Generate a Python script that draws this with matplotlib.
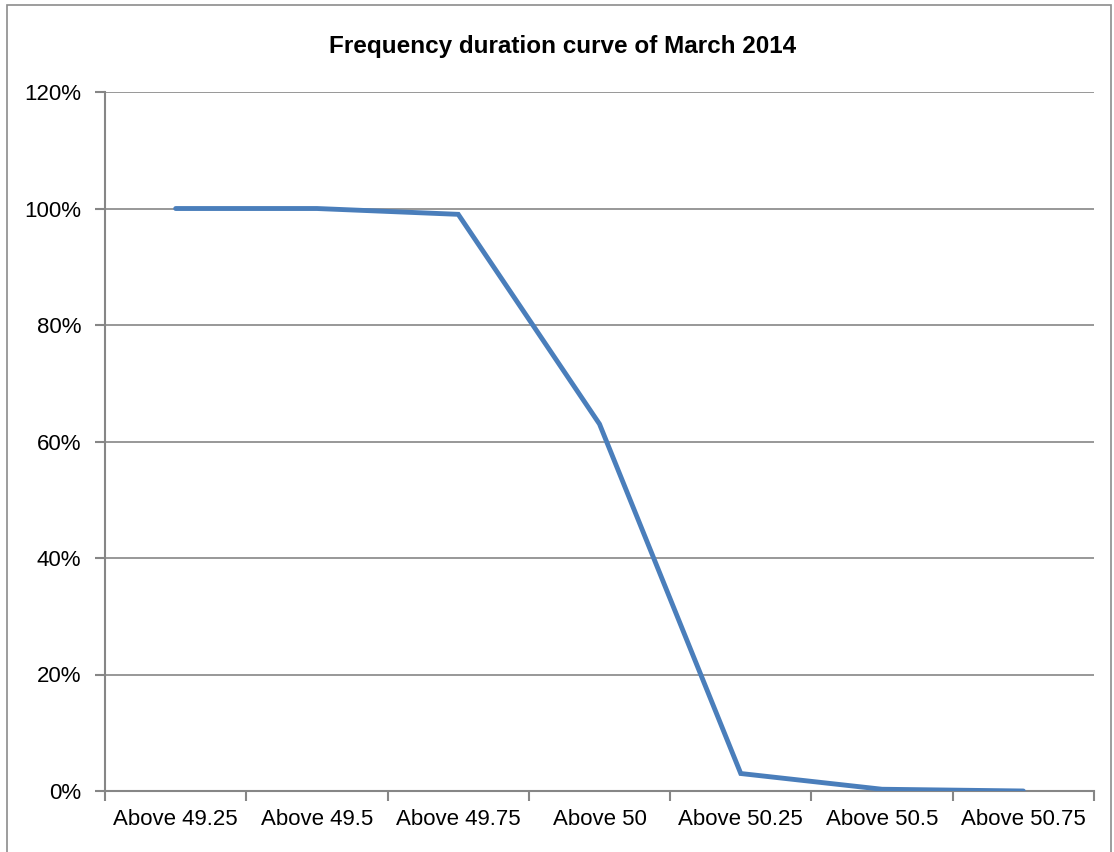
import matplotlib.pyplot as plt
from matplotlib.ticker import FixedLocator, FuncFormatter
from matplotlib.patches import Rectangle
from matplotlib import font_manager

categories = ["Above 49.25", "Above 49.5", "Above 49.75", "Above 50",
              "Above 50.25", "Above 50.5", "Above 50.75"]
duration = [100, 100, 99, 63, 3, 0.3, 0]
yticks = [0, 20, 40, 60, 80, 100, 120]

names = {f.name for f in font_manager.fontManager.ttflist}
family = ["Liberation Sans Narrow", "Liberation Sans", "DejaVu Sans"]
family = [f for f in family if f in names] or ["DejaVu Sans"]
plt.rcParams['font.family'] = family

fig = plt.figure(figsize=(11.14, 8.52), dpi=100)
fig.patches.append(Rectangle((0.006, -0.01), 0.991, 1.004, transform=fig.transFigure,
                             fill=False, edgecolor='#8c8c8c', linewidth=1.2))

ax = fig.add_axes([0.0943, 0.0716, 0.8877, 0.8204])
x = list(range(len(categories)))
ax.plot(x, duration, color='#4a7ebb', linewidth=3.5, solid_capstyle='round',
        solid_joinstyle='miter', zorder=3)

ax.set_xlim(-0.5, len(categories) - 0.5)
ax.set_ylim(0, 120)
ax.set_yticks(yticks)
ax.yaxis.set_major_formatter(FuncFormatter(lambda v, p: f"{v:.0f}%"))
ax.set_xticks(x)
ax.set_xticklabels(categories)
ax.xaxis.set_minor_locator(FixedLocator([i + 0.5 for i in range(-1, len(categories))]))
ax.tick_params(axis='x', which='major', length=0, labelsize=16, pad=13)
ax.tick_params(axis='x', which='minor', length=7, width=1.5, color='#868686')
ax.tick_params(axis='y', length=7, width=1.5, color='#868686', labelsize=16, pad=10)

ax.grid(axis='y', color='#868686', linewidth=1.2)
ax.set_axisbelow(True)
for side in ['top', 'right']:
    ax.spines[side].set_visible(False)
for side in ['left', 'bottom']:
    ax.spines[side].set_color('#868686')
    ax.spines[side].set_linewidth(1.5)

fig.text(0.505, 0.945, "Frequency duration curve of March 2014", ha='center', va='center',
         fontsize=17.5, fontweight='bold')

fig.savefig("out.png", dpi=100)
